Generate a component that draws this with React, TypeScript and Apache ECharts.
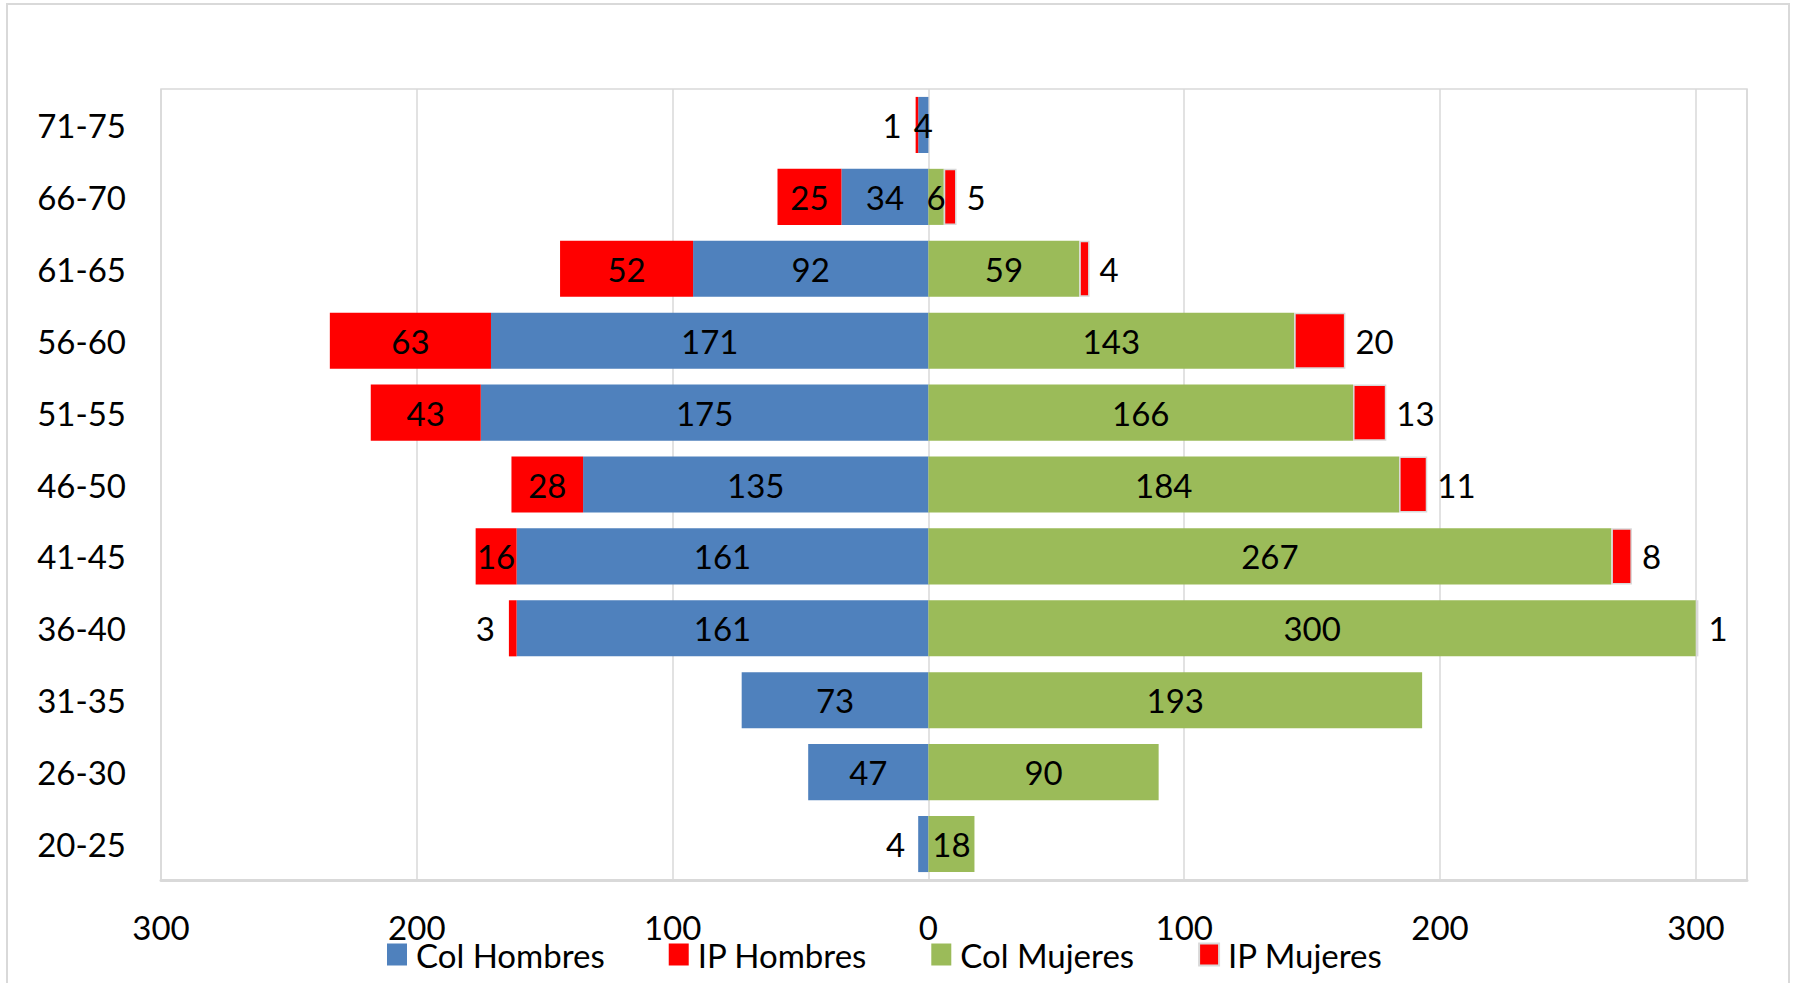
import React, { useEffect, useRef } from "react";
import * as echarts from "echarts";

const categories = ["20-25", "26-30", "31-35", "36-40", "41-45", "46-50", "51-55", "56-60", "61-65", "66-70", "71-75"];
const colHombres = [4, 47, 73, 161, 161, 135, 175, 171, 92, 34, 4];
const ipHombres = [0, 0, 0, 3, 16, 28, 43, 63, 52, 25, 1];
const colMujeres = [18, 90, 193, 300, 267, 184, 166, 143, 59, 6, 0];
const ipMujeres = [0, 0, 0, 1, 8, 11, 13, 20, 4, 5, 0];
const seriesNames = ["Col Hombres", "IP Hombres", "Col Mujeres", "IP Mujeres"];

// indices whose data labels sit outside (left) of the bar
const colHombresOutside = [0];
const ipHombresOutside = [3, 10];

const FONT = "Lato, 'Open Sans', sans-serif";

export default function App() {
  const ref = useRef<HTMLDivElement>(null);
  useEffect(() => {
    if (!ref.current) return;
    const chart = echarts.init(ref.current, undefined, { renderer: "svg" });
    const labelBase = {
      show: true,
      fontSize: 33,
      fontFamily: FONT,
      color: "#000",
      formatter: (p: any) => (p.value === 0 || p.value == null ? "" : String(Math.abs(p.value))),
    };
    const mk = (vals: number[], sign: number, outside: number[], outsidePos: string, dist: number) =>
      vals.map((v, i) => {
        if (v === 0) return { value: null };
        const item: any = { value: sign * v };
        if (outside.includes(i)) item.label = { position: outsidePos, distance: dist };
        return item;
      });
    const allRight = ipMujeres.map((_, i) => i);
    chart.setOption({
      animation: false,
      textStyle: { fontFamily: FONT },
      graphic: [
        {
          type: "rect",
          shape: { x: 7, y: 4, width: 1782, height: 1000 },
          style: { fill: "none", stroke: "#d9d9d9", lineWidth: 2 },
          silent: true,
        },
      ],
      grid: {
        left: 161,
        right: 46,
        top: 89,
        bottom: 103,
        show: true,
        borderColor: "#d9d9d9",
        borderWidth: 1.5,
        containLabel: false,
      },
      legend: {
        data: seriesNames,
        left: 382,
        top: 933,
        itemWidth: 20,
        itemHeight: 22,
        itemGap: 64,
        icon: "rect",
        textStyle: { fontSize: 33, fontFamily: FONT, color: "#000", padding: [0, 0, 0, 4] },
      },
      xAxis: {
        type: "value",
        min: -300,
        max: 320,
        interval: 100,
        axisLine: { show: true, lineStyle: { color: "#d9d9d9", width: 3 } },
        axisTick: { show: false },
        splitLine: { show: true, lineStyle: { color: "#d9d9d9", width: 1.5 } },
        axisLabel: {
          fontSize: 33,
          fontFamily: FONT,
          color: "#000",
          margin: 30,
          formatter: (v: number) => (v % 100 === 0 ? String(Math.abs(v)) : ""),
        },
      },
      yAxis: {
        type: "category",
        data: categories,
        axisLine: { show: false, onZero: false },
        axisTick: { show: false },
        splitLine: { show: false },
        axisLabel: { fontSize: 33, fontFamily: FONT, color: "#000", margin: 35 },
      },
      series: [
        {
          name: seriesNames[0],
          type: "bar",
          stack: "total",
          barWidth: "78%",
          itemStyle: { color: "#4f81bd" },
          label: { ...labelBase, position: "inside" },
          data: mk(colHombres, -1, colHombresOutside, "left", 13),
        },
        {
          name: seriesNames[1],
          type: "bar",
          stack: "total",
          itemStyle: { color: "#ff0000" },
          label: { ...labelBase, position: "inside" },
          data: mk(ipHombres, -1, ipHombresOutside, "left", 14),
        },
        {
          name: seriesNames[2],
          type: "bar",
          stack: "total",
          itemStyle: { color: "#9bbb59" },
          label: { ...labelBase, position: "inside" },
          data: mk(colMujeres, 1, [], "right", 10),
        },
        {
          name: seriesNames[3],
          type: "bar",
          stack: "total",
          itemStyle: { color: "#ff0000", borderColor: "#d9d9d9", borderWidth: 1.5 },
          label: { ...labelBase, position: "right", distance: 10 },
          data: mk(ipMujeres, 1, allRight, "right", 10),
        },
      ],
    });
    return () => chart.dispose();
  }, []);
  return (
    <div
      ref={ref}
      style={{ position: "absolute", left: 0, top: 0, width: 1793, height: 983, background: "#fff" }}
    />
  );
}
